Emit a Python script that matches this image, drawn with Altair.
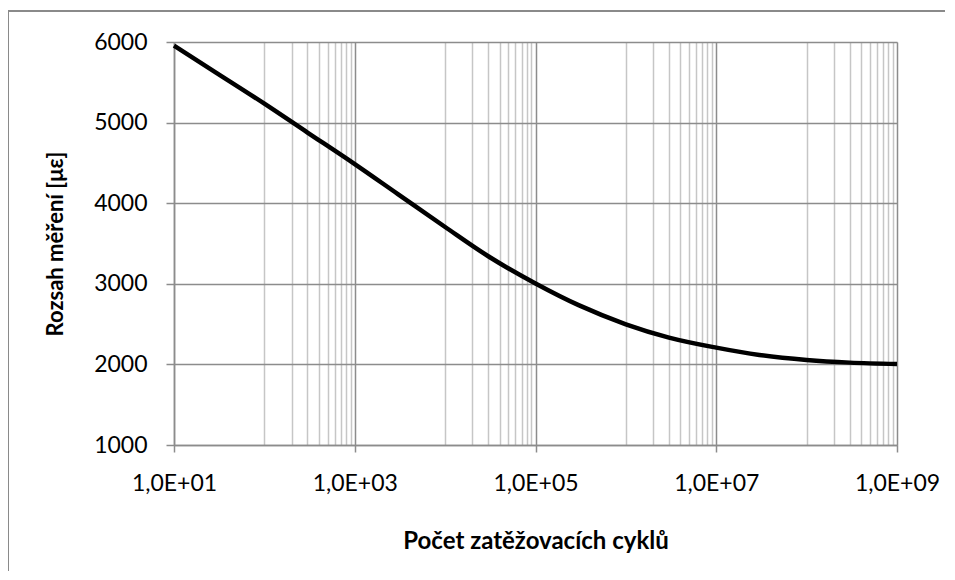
import altair as alt
import pandas as pd

# Data
cycles = [10, 30, 100, 300, 1000, 3000, 1e4, 3e4, 1e5, 3e5, 1e6, 3e6, 1e7, 3e7, 1e8, 3e8, 1e9]
strain = [5955, 5612, 5235, 4877, 4485, 4113, 3705, 3342, 3004, 2735, 2498, 2333, 2208, 2117, 2055, 2022, 2005]

major_ticks = [10, 1e3, 1e5, 1e7, 1e9]
minor_grid = [j * b for b in [1e2, 1e4, 1e6, 1e8] for j in range(1, 10)]
y_ticks = [1000, 2000, 3000, 4000, 5000, 6000]

x_title = "Počet zatěžovacích cyklů"
y_title = "Rozsah měření [με]"

df = pd.DataFrame({"N": cycles, "S": strain})
grid_df = pd.DataFrame({"N": minor_grid})
one = alt.Data(values=[{"k": 1}])

FONT = "Lato"
xscale = alt.Scale(type="log", domain=[10, 1e9], nice=False)
yscale = alt.Scale(domain=[1000, 6000], nice=False, zero=False)

label_expr = ('"1,0E+" + (round(log(datum.value)/LN10) < 10 ? "0" : "") + '
              'round(log(datum.value)/LN10)')

minor = alt.Chart(grid_df).mark_point(opacity=0).encode(
    x=alt.X("N:Q", scale=xscale,
            axis=alt.Axis(orient="bottom", values=minor_grid, grid=True,
                          gridColor="#c6c6c6", gridWidth=1.5, labels=False,
                          ticks=False, domain=False, title=None)),
)

main = alt.Chart(df).mark_line(color="black", strokeWidth=4.5,
                               interpolate="monotone").encode(
    x=alt.X("N:Q", scale=xscale,
            axis=alt.Axis(orient="bottom", values=major_ticks, grid=True,
                          gridColor="#8c8c8c", gridWidth=1.5,
                          domainColor="#8c8c8c", domainWidth=1.5,
                          tickColor="#8c8c8c", tickWidth=1.5, tickSize=7,
                          labelExpr=label_expr, labelFont=FONT,
                          labelFontSize=23, labelColor="black",
                          labelFlush=False, labelPadding=20,
                          title=x_title, titleFont=FONT,
                          titleFontSize=24, titleFontWeight="bold",
                          titleColor="black", titlePadding=34)),
    y=alt.Y("S:Q", scale=yscale,
            axis=alt.Axis(values=y_ticks, format="d", grid=True,
                          gridColor="#8c8c8c", gridWidth=1.5,
                          domainColor="#8c8c8c", domainWidth=1.5,
                          tickColor="#8c8c8c", tickWidth=1.5, tickSize=8,
                          labelFont=FONT, labelFontSize=23, labelColor="black",
                          labelFlush=False, labelPadding=19,
                          title=y_title, titleFont=FONT,
                          titleFontSize=22, titleFontWeight="bold",
                          titleColor="black", titlePadding=26)),
)

# outer chart-area frame (top and left edges visible in the reference)
frame_top = alt.Chart(one).mark_rule(color="#8a8a8a", strokeWidth=2, clip=False).encode(
    x=alt.value(-167), x2=alt.value(2000), y=alt.value(-31)
)
frame_left = alt.Chart(one).mark_rule(color="#8a8a8a", strokeWidth=2, clip=False).encode(
    x=alt.value(-166), y=alt.value(-32), y2=alt.value(2000)
)

chart = alt.layer(minor, main, frame_top, frame_left).resolve_axis(x="independent").properties(
    width=723, height=403, autosize="none",
    padding={"left": 166, "top": 34, "right": 48, "bottom": 126},
).configure_view(stroke=None).configure(background="white")

chart.save("out.html", embed_options={"renderer": "svg", "actions": False})
